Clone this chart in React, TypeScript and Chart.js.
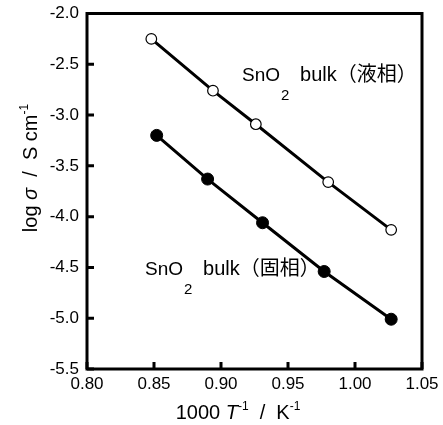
import React, { useEffect, useRef } from "react";
import { Chart, registerables } from "chart.js";

Chart.register(...registerables);

const xLiquid = [0.848, 0.894, 0.926, 0.98, 1.027];
const yLiquid = [-2.25, -2.76, -3.09, -3.66, -4.13];
const xSolid = [0.852, 0.89, 0.931, 0.977, 1.027];
const ySolid = [-3.2, -3.63, -4.06, -4.54, -5.01];

const labelLiquid = ["SnO", "2", "bulk（液相）"];
const labelSolid = ["SnO", "2", "bulk（固相）"];

const FONT = '"Liberation Sans", Arial, "Noto Sans CJK JP", sans-serif';

type Seg = { t: string; size: number; dy: number; italic?: boolean };

function drawRich(ctx: CanvasRenderingContext2D, segs: Seg[], x: number, y: number, align: "left" | "center") {
  const widths = segs.map((s) => {
    ctx.font = `${s.italic ? "italic " : ""}${s.size}px ${FONT}`;
    return ctx.measureText(s.t).width;
  });
  const total = widths.reduce((a, b) => a + b, 0);
  let cx = align === "center" ? x - total / 2 : x;
  ctx.textAlign = "left";
  ctx.textBaseline = "alphabetic";
  segs.forEach((s, i) => {
    ctx.font = `${s.italic ? "italic " : ""}${s.size}px ${FONT}`;
    ctx.fillText(s.t, cx, y + s.dy);
    cx += widths[i];
  });
}

function drawLabel(ctx: CanvasRenderingContext2D, parts: string[], x: number, y: number) {
  ctx.textAlign = "left";
  ctx.textBaseline = "alphabetic";
  ctx.font = `19px ${FONT}`;
  ctx.fillText(parts[0], x, y);
  const w0 = ctx.measureText(parts[0]).width;
  ctx.font = `15px ${FONT}`;
  ctx.fillText(parts[1], x + w0 + 1, y + 19);
  ctx.font = `20px ${FONT}`;
  ctx.fillText(parts[2], x + w0 + 20, y);
}

const framePlugin = {
  id: "frame",
  afterDraw(chart: any) {
    const ctx = chart.ctx as CanvasRenderingContext2D;
    const { left, right, top, bottom } = chart.chartArea;
    const xs = chart.scales.x;
    const ys = chart.scales.y;
    ctx.save();
    ctx.strokeStyle = "#000";
    ctx.fillStyle = "#000";
    ctx.lineWidth = 3;
    ctx.strokeRect(left, top, right - left, bottom - top);
    ctx.beginPath();
    ys.ticks.forEach((t: any) => {
      const py = ys.getPixelForValue(t.value);
      ctx.moveTo(left, py);
      ctx.lineTo(left + 7, py);
    });
    xs.ticks.forEach((t: any) => {
      const px = xs.getPixelForValue(t.value);
      ctx.moveTo(px, bottom);
      ctx.lineTo(px, bottom - 7);
    });
    ctx.stroke();

    // x title
    drawRich(
      ctx,
      [
        { t: "1000 ", size: 20, dy: 0 },
        { t: "T", size: 20, dy: 0, italic: true },
        { t: "-1", size: 12, dy: -9 },
        { t: "  /  ", size: 20, dy: 0 },
        { t: "K", size: 20, dy: 0 },
        { t: "-1", size: 12, dy: -9 },
      ],
      238,
      419,
      "center"
    );

    // y title
    ctx.save();
    ctx.translate(37, 168);
    ctx.rotate(-Math.PI / 2);
    drawRich(
      ctx,
      [
        { t: "log ", size: 20, dy: 0 },
        { t: "σ", size: 20, dy: 0, italic: true },
        { t: "  /  S cm", size: 20, dy: 0 },
        { t: "-1", size: 12, dy: -9 },
      ],
      0,
      0,
      "center"
    );
    ctx.restore();

    // annotations
    drawLabel(ctx, labelLiquid, 242, 81);
    drawLabel(ctx, labelSolid, 145, 275);
    ctx.restore();
  },
};

export default function App() {
  const ref = useRef<HTMLCanvasElement>(null);
  useEffect(() => {
    if (!ref.current) return;
    const chart = new Chart(ref.current, {
      type: "line",
      data: {
        datasets: [
          {
            label: "liquid",
            data: xLiquid.map((x, i) => ({ x, y: yLiquid[i] })),
            borderColor: "#000",
            borderWidth: 3,
            pointRadius: 5.3,
            pointBorderWidth: 1.2,
            pointBackgroundColor: "#fff",
            pointBorderColor: "#000",
            showLine: true,
            tension: 0,
          },
          {
            label: "solid",
            data: xSolid.map((x, i) => ({ x, y: ySolid[i] })),
            borderColor: "#000",
            borderWidth: 3,
            pointRadius: 6,
            pointBorderWidth: 1,
            pointBackgroundColor: "#000",
            pointBorderColor: "#000",
            showLine: true,
            tension: 0,
          },
        ],
      },
      options: {
        animation: false,
        responsive: false,
        layout: { padding: { top: 13.5, right: 21, left: 0, bottom: 0 } },
        plugins: { legend: { display: false }, tooltip: { enabled: false } },
        scales: {
          x: {
            type: "linear",
            min: 0.8,
            max: 1.05,
            grid: { display: false, drawTicks: false },
            border: { display: false },
            ticks: {
              stepSize: 0.05,
              padding: 5,
              color: "#000",
              font: { family: FONT, size: 17 },
              maxRotation: 0,
              callback: (v: any) => Number(v).toFixed(2),
            },
            afterFit: (s: any) => {
              s.height = 56;
              s.paddingLeft = 0;
              s.paddingRight = 0;
            },
          },
          y: {
            type: "linear",
            min: -5.5,
            max: -2.0,
            grid: { display: false, drawTicks: false },
            border: { display: false },
            ticks: {
              stepSize: 0.5,
              padding: 8,
              color: "#000",
              font: { family: FONT, size: 17 },
              callback: (v: any) => Number(v).toFixed(1),
            },
            afterFit: (s: any) => {
              s.width = 87;
              s.paddingTop = 0;
              s.paddingBottom = 0;
            },
          },
        },
      },
      plugins: [framePlugin],
    });
    return () => chart.destroy();
  }, []);
  return (
    <div style={{ position: "absolute", left: 0, top: 0, width: 443, height: 425, background: "#fff" }}>
      <canvas ref={ref} width={443} height={425} />
    </div>
  );
}
